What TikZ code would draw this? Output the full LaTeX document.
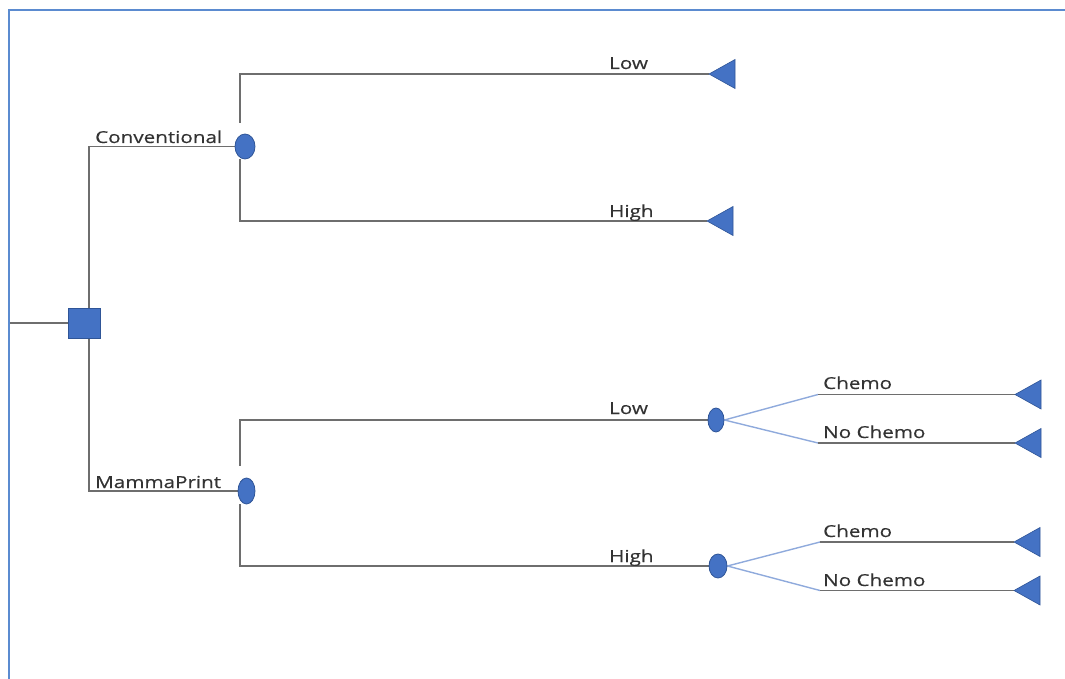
\documentclass[tikz,border=0pt]{standalone}
\usepackage{fontspec}
\setmainfont[FakeStretch=1.25,FakeBold=0.4]{Open Sans}
\usetikzlibrary{shapes.geometric,backgrounds}
\definecolor{frameblue}{HTML}{5B8BD0}
\definecolor{nodefill}{HTML}{4472C4}
\definecolor{nodeedge}{HTML}{2F5597}
\definecolor{branch}{HTML}{6E6E6E}
\definecolor{lightbranch}{HTML}{8FAADC}
\definecolor{labeltext}{HTML}{333333}
\tikzset{
  decision/.style={rectangle,draw=nodeedge,fill=nodefill,line width=1pt,
    minimum width=32pt,minimum height=30pt,inner sep=0pt},
  chance/.style={ellipse,draw=nodeedge,fill=nodefill,line width=0.8pt,inner sep=0pt},
  edge/.style={draw=branch,line width=1.8pt},
  soft/.style={draw=lightbranch,line width=1.4pt},
  lbl/.style={anchor=base west,inner sep=0pt,text=labeltext,
    font=\fontsize{16.5}{18}\selectfont},
  endfill/.style={fill=nodefill,draw=nodeedge,line width=0.6pt,line join=miter},
}
\newcommand{\terminal}[1]{\filldraw[endfill] (#1) -- ++(26,-14.5) -- ++(0,29) -- cycle;}
\begin{document}
\begin{tikzpicture}[x=1pt,y=-1pt]
  \useasboundingbox (0,0) rectangle (1065,679);
  % frame (top and left edges)
  \draw[frameblue,line width=2pt] (9,679) -- (9,10) -- (1065,10);

  % decision and chance nodes
  \node[decision] (root) at (84.5,323) {};
  \node[chance,minimum width=20pt,minimum height=25pt] (conv) at (245,146.5) {};
  \node[chance,minimum width=17pt,minimum height=26pt] (mp) at (246.5,491) {};
  \node[chance,minimum width=16pt,minimum height=24pt] (mplow) at (716,420) {};
  \node[chance,minimum width=18pt,minimum height=24pt] (mphigh) at (718,566) {};

  % terminal tips
  \coordinate (tConvLow) at (709,74);
  \coordinate (tConvHigh) at (707,221);
  \coordinate (tLC) at (1015,394.5);
  \coordinate (tLN) at (1015,443);
  \coordinate (tHC) at (1014,542);
  \coordinate (tHN) at (1014,590.5);
  \coordinate (start) at (9,323);
  \coordinate (jLC) at (818,394.5);
  \coordinate (jLN) at (818,443);
  \coordinate (jHC) at (820,542);
  \coordinate (jHN) at (820,590.5);

  \begin{pgfonlayer}{background}
    \draw[edge] (start) -- (root.west);
    \draw[edge] ([xshift=4.5]root.north) |- (conv.west);
    \draw[edge] ([xshift=4.5]root.south) |- (mp.west);
    \draw[edge] ([shift={(-5,-11)}]conv.north) |- (tConvLow);
    \draw[edge] ([xshift=-5]conv.south) |- (tConvHigh);
    \draw[edge] ([shift={(-6.5,-12)}]mp.north) |- (mplow.west);
    \draw[edge] ([xshift=-6.5]mp.south) |- (mphigh.west);
    \draw[soft] (mplow.east) -- (jLC);
    \draw[soft] (mplow.east) -- (jLN);
    \draw[soft] (mphigh.east) -- (jHC);
    \draw[soft] (mphigh.east) -- (jHN);
    \draw[edge] (jLC) -- (tLC);
    \draw[edge] (jLN) -- (tLN);
    \draw[edge] (jHC) -- (tHC);
    \draw[edge] (jHN) -- (tHN);
  \end{pgfonlayer}

  % terminal triangles
  \terminal{tConvLow}
  \terminal{tConvHigh}
  \terminal{tLC}
  \terminal{tLN}
  \terminal{tHC}
  \terminal{tHN}

  % branch labels
  \node[lbl] (lConv) at (95,143) {Conventional};
  \node[lbl] (lMP) at (95,488) {MammaPrint};
  \node[lbl] (lCL) at (609,69) {Low};
  \node[lbl] (lCH) at (609,217) {High};
  \node[lbl] (lML) at (609,414) {Low};
  \node[lbl] (lMH) at (609,562) {High};
  \node[lbl] (lLC) at (823,389) {Chemo};
  \node[lbl] (lLN) at (823,438) {No Chemo};
  \node[lbl] (lHC) at (823,537) {Chemo};
  \node[lbl] (lHN) at (823,586) {No Chemo};
\end{tikzpicture}
\end{document}
